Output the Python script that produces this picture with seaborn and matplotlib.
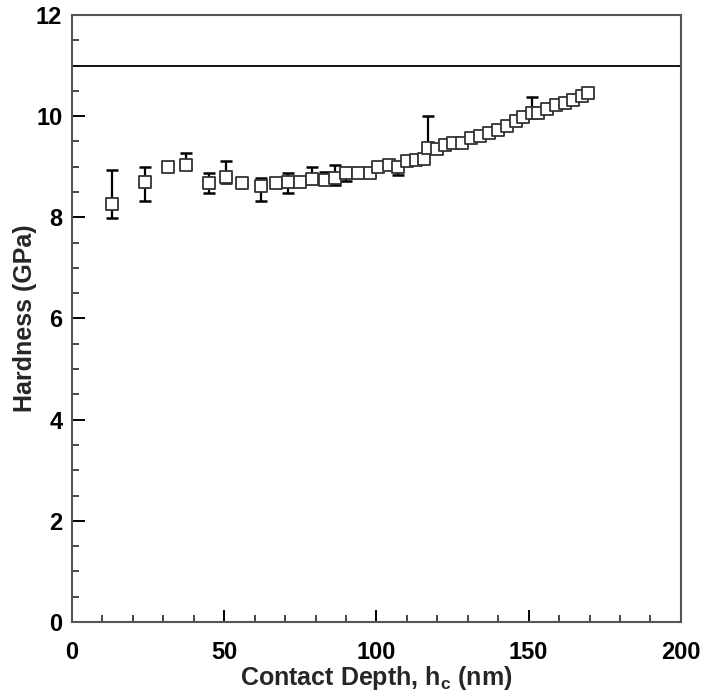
import numpy as np
import pandas as pd
import matplotlib
matplotlib.use("Agg")
import matplotlib.pyplot as plt
import seaborn as sns
from matplotlib.ticker import MultipleLocator

depth = [13, 24, 31.5, 37.5, 45, 50.5, 56, 62, 67, 71, 75, 79, 83, 86.5, 90, 94,
         98, 100.5, 104, 107, 110, 113, 115.5, 117, 120, 122.5, 125, 128, 131, 134,
         137, 140, 143, 146, 148, 151, 153, 156, 159, 162, 164.5, 167.5, 169.5]
hardness = [8.26, 8.70, 8.99, 9.03, 8.68, 8.79, 8.68, 8.62, 8.68, 8.70, 8.70, 8.76,
            8.74, 8.78, 8.87, 8.87, 8.87, 8.99, 9.03, 8.99, 9.11, 9.13, 9.15, 9.38,
            9.35, 9.43, 9.47, 9.47, 9.57, 9.60, 9.66, 9.72, 9.80, 9.90, 9.98, 10.06,
            10.06, 10.14, 10.22, 10.26, 10.32, 10.40, 10.45]
err_up = [0.67, 0.29, 0.06, 0.24, 0.19, 0.32, 0.05, 0.15, 0.06, 0.17, 0.05, 0.23,
          0.15, 0.25, 0.10, 0.05, 0.06, 0.10, 0.05, 0.05, 0.05, 0.05, 0.05, 0.62,
          0.05, 0.10, 0.05, 0.05, 0.05, 0.05, 0.05, 0.05, 0.05, 0.08, 0.05, 0.32,
          0.05, 0.05, 0.08, 0.05, 0.08, 0.10, 0.05]
err_low = [0.28, 0.38, 0.06, 0.08, 0.20, 0.11, 0.05, 0.30, 0.06, 0.22, 0.05, 0.08,
           0.08, 0.15, 0.15, 0.05, 0.06, 0.05, 0.05, 0.16, 0.05, 0.05, 0.05, 0.10,
           0.05, 0.05, 0.05, 0.05, 0.05, 0.08, 0.05, 0.05, 0.05, 0.05, 0.05, 0.10,
           0.05, 0.05, 0.08, 0.05, 0.05, 0.05, 0.05]
reference_hardness = 11.0

df = pd.DataFrame({"depth": depth, "hardness": hardness})

sns.set_style("ticks")
plt.rcParams["font.family"] = ["Liberation Sans", "DejaVu Sans"]
plt.rcParams["font.weight"] = "bold"

fig = plt.figure(figsize=(7.07, 6.98), dpi=100)
ax = fig.add_axes([0.1018, 0.1089, 0.8612, 0.8696])

ax.errorbar(depth, hardness, yerr=[err_low, err_up], fmt="none", ecolor="black",
            elinewidth=1.6, capsize=4, capthick=1.8, zorder=2)
sns.scatterplot(data=df, x="depth", y="hardness", marker="s", s=85,
                facecolor="white", edgecolor="#333333", linewidth=1.3, ax=ax, zorder=3)
ax.axhline(reference_hardness, color="black", lw=1.3, zorder=1)

ax.set_xlim(0, 200)
ax.set_ylim(0, 12)
ax.xaxis.set_major_locator(MultipleLocator(50))
ax.xaxis.set_minor_locator(MultipleLocator(10))
ax.yaxis.set_major_locator(MultipleLocator(2))
ax.yaxis.set_minor_locator(MultipleLocator(0.5))
ax.tick_params(which="major", direction="in", length=9, width=1.4, labelsize=17,
               colors="black")
ax.tick_params(axis="x", which="major", pad=14)
ax.tick_params(axis="y", which="major", pad=7)
ax.tick_params(which="minor", direction="in", length=5, width=1.2)
for lab in ax.get_xticklabels() + ax.get_yticklabels():
    lab.set_fontweight("bold")
for sp in ax.spines.values():
    sp.set_visible(True)
    sp.set_color("#555555")
    sp.set_linewidth(1.5)

ax.set_xlabel("Contact Depth, h$_\\mathregular{c}$ (nm)", fontsize=18, fontweight="bold", labelpad=0)
ax.set_ylabel("Hardness (GPa)", fontsize=18, fontweight="bold", labelpad=-1)

fig.savefig("out.png", dpi=100)
